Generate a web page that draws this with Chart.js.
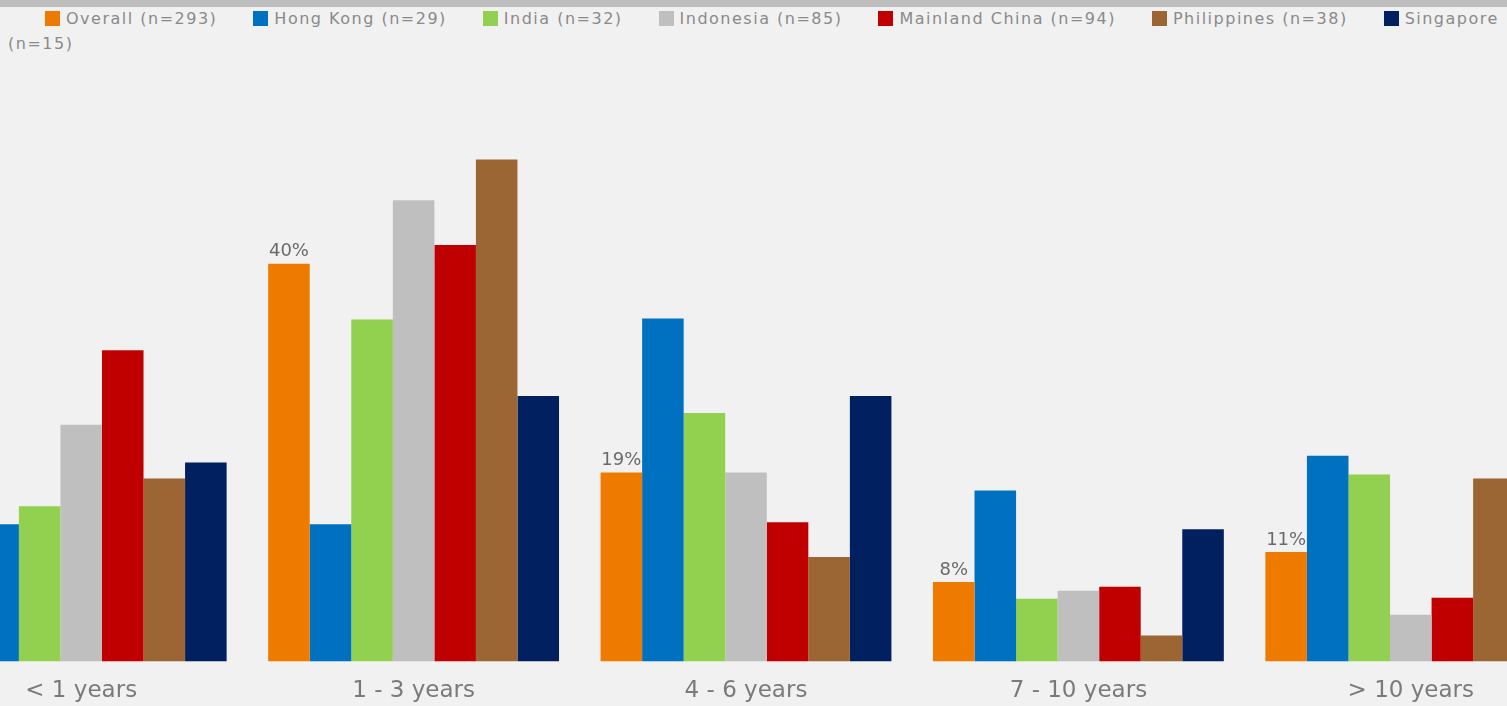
<!DOCTYPE html>
<html>
<head>
<meta charset="utf-8">
<script src="https://cdn.jsdelivr.net/npm/chart.js@4.4.1/dist/chart.umd.min.js"></script>
<style>
  html, body { margin: 0; padding: 0; width: 1507px; height: 706px; overflow: hidden; background: #f1f1f1; }
  #topband { position: absolute; left: 0; top: 0; width: 1507px; height: 7px; background: #bebebe; }
  #legend {
    position: absolute; left: 0; top: 6px; width: 1499px; padding-left: 8px;
    text-indent: 37px; line-height: 25px;
    font-family: "DejaVu Sans", sans-serif; font-size: 16px; letter-spacing: 1.5px; color: #8a8a8a;
  }
  #legend .item { margin-right: 36px; }
  #legend .box { display: inline-block; width: 15px; height: 15px; margin-right: 6px; vertical-align: -2px; text-indent: 0; }
  #wrap { position: absolute; left: -85px; top: 65px; width: 1662px; height: 656px; }
</style>
</head>
<body>
<div id="topband"></div>
<div id="legend"></div>
<div id="wrap"><canvas id="chart"></canvas></div>
<script>
// categories and series (values in %)
const categories = ['< 1 years', '1 - 3 years', '4 - 6 years', '7 - 10 years', '> 10 years'];
const seriesNames = ['Overall (n=293)', 'Hong Kong (n=29)', 'India (n=32)', 'Indonesia (n=85)', 'Mainland China (n=94)', 'Philippines (n=38)', 'Singapore (n=15)'];
const seriesColors = ['#ef7a00', '#0070c0', '#92d050', '#bfbfbf', '#c00000', '#9c6534', '#002060'];

const overall = [23, 40, 19, 8, 11];
const hongKong = [13.8, 13.8, 34.5, 17.2, 20.7];
const india = [15.6, 34.4, 25, 6.3, 18.8];
const indonesia = [23.8, 46.4, 19, 7.1, 4.7];
const mainlandChina = [31.3, 41.9, 14, 7.5, 6.4];
const philippines = [18.4, 50.5, 10.5, 2.6, 18.4];
const singapore = [20, 26.7, 26.7, 13.3, 13.3];

const seriesValues = [overall, hongKong, india, indonesia, mainlandChina, philippines, singapore];

// html legend (wraps like the original)
const legend = document.getElementById('legend');
seriesNames.forEach((name, i) => {
    const span = document.createElement('span');
    span.className = 'item';
    span.innerHTML = `<span class="box" style="background:${seriesColors[i]}"></span>${name}`;
    legend.appendChild(span);
});

// value labels over the Overall bars only
const overallLabels = {
    id: 'overallLabels',
    afterDatasetsDraw(chart) {
        const ctx = chart.ctx;
        const meta = chart.getDatasetMeta(0);
        ctx.save();
        ctx.font = '18px "DejaVu Sans", sans-serif';
        ctx.fillStyle = '#6a6a6a';
        ctx.textAlign = 'center';
        ctx.textBaseline = 'bottom';
        meta.data.forEach((bar, i) => {
            ctx.fillText(Math.round(overall[i]) + '%', bar.x, bar.y - 3);
        });
        ctx.restore();
    }
};

const ctx = document.getElementById('chart').getContext('2d');
new Chart(ctx, {
    type: 'bar',
    data: {
        labels: categories,
        datasets: seriesNames.map((name, i) => ({
            label: name,
            data: seriesValues[i],
            backgroundColor: seriesColors[i],
            borderWidth: 0,
            categoryPercentage: 0.875,
            barPercentage: 1.0
        }))
    },
    options: {
        responsive: true,
        maintainAspectRatio: false,
        animation: false,
        devicePixelRatio: 1,
        layout: { padding: 0 },
        plugins: {
            legend: { display: false },
            tooltip: { enabled: false }
        },
        scales: {
            x: {
                grid: { display: false, drawTicks: false },
                border: { display: false },
                ticks: {
                    color: '#7a7a7a',
                    font: { family: '"DejaVu Sans", sans-serif', size: 23 },
                    padding: 16,
                    maxRotation: 0,
                    autoSkip: false
                }
            },
            y: {
                display: false,
                min: 0,
                max: 60
            }
        }
    },
    plugins: [overallLabels]
});
</script>
</body>
</html>
